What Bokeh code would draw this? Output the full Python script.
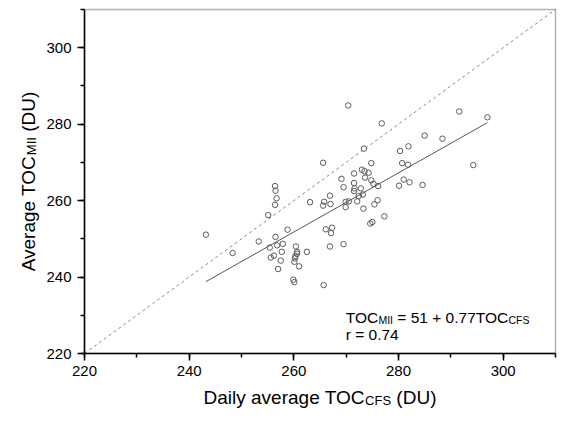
import math
from bokeh.plotting import figure
from bokeh.models import Range1d, SingleIntervalTicker, Label, BoxAnnotation
from bokeh.embed import file_html
from bokeh.resources import INLINE

# ---- data ----
cfs = [270.4, 276.8, 273.4, 280.3, 281.9, 265.6, 274.8, 280.7, 281.8, 271.5,
       273.0, 273.5, 274.3, 269.1, 273.6, 274.8, 275.2, 276.1, 281.0, 282.1,
       280.1, 256.4, 256.5, 269.5, 271.5, 271.6, 271.5, 272.8, 273.2, 272.4,
       266.9, 256.7, 263.1, 265.8, 265.6, 267.0, 269.9, 270.5, 272.1, 276.0,
       275.4, 269.9, 273.3, 256.4, 255.1, 277.3, 274.6, 275.0, 258.8, 266.1,
       267.3, 291.6, 297.0, 285.0, 288.4, 294.3, 284.6, 243.2, 248.3, 253.3,
       255.4, 256.5, 256.8, 257.9, 257.7, 255.6, 256.2, 257.5, 257.0, 260.4,
       260.6, 260.6, 260.3, 260.2, 260.1, 261.0, 262.5, 259.9, 260.1, 265.7,
       267.1, 266.9, 269.5]
mii = [284.9, 280.2, 273.6, 273.0, 274.2, 269.9, 269.8, 269.8, 269.4, 267.1,
       268.1, 267.7, 267.3, 265.7, 266.0, 265.3, 264.4, 263.8, 265.5, 264.8,
       263.9, 263.8, 262.6, 263.5, 264.6, 263.2, 262.5, 263.2, 261.6, 261.2,
       261.3, 260.6, 259.6, 259.7, 258.7, 259.1, 259.7, 259.8, 259.8, 260.1,
       259.0, 258.3, 257.9, 258.9, 256.2, 255.9, 254.0, 254.4, 252.4, 252.5,
       252.9, 283.3, 281.8, 277.0, 276.2, 269.3, 264.1, 251.1, 246.3, 249.3,
       247.7, 250.5, 248.3, 248.7, 246.6, 245.1, 245.6, 244.3, 242.1, 248.0,
       246.6, 246.1, 245.5, 244.9, 244.0, 242.8, 246.6, 239.3, 238.7, 237.9,
       251.5, 248.0, 248.6]
fit_x = [243.2, 297.0]
fit_y = [238.8, 280.4]
one_to_one = [220, 310]
axis_lo, axis_hi = 220, 310
tick_step = 20
x_label = ["Daily average TOC", "CFS", "(DU)"]
y_label = ["Average TOC", "MII", "(DU)"]
eq_parts = ["TOC", "MII", "= 51 + 0.77TOC", "CFS"]
r_text = "r = 0.74"

# ---- layout (canvas pixels) ----
W, H = 558, 410
BOX_L, BOX_R, BOX_T, BOX_B = 84, 555, 9, 353
FONT = "Liberation Sans"

SX = (BOX_R - BOX_L) / (axis_hi - axis_lo)
SY = (BOX_B - BOX_T) / (axis_hi - axis_lo)
xa = axis_lo - BOX_L / SX
xb = axis_hi + (W - BOX_R) / SX
yb = axis_hi + BOX_T / SY
ya = axis_lo - (H - BOX_B) / SY

AW = {' ': .278, '=': .584, '+': .584, '.': .278, 'T': .611, 'O': .778, 'C': .722,
      'M': .833, 'I': .278, 'F': .611, 'S': .667, 'r': .333, '(': .333, ')': .333,
      'D': .722, 'U': .722, 'A': .667, 'v': .5, 'e': .556, 'a': .556, 'g': .556,
      'i': .222, 'l': .222, 'y': .5}
for d in "0123456789":
    AW[d] = .556


def tw(s, size):
    return sum(AW.get(c, .556) for c in s) * size


def cx(px):  # canvas x -> data
    return xa + px / SX


def cy(py):  # canvas y (from top) -> data
    return yb - py / SY


p = figure(width=W, height=H, x_range=Range1d(xa, xb), y_range=Range1d(ya, yb),
           output_backend="svg", toolbar_location=None, min_border=0)
p.grid.visible = False
p.outline_line_color = None
p.background_fill_color = "white"
p.border_fill_color = "white"

for ax, loc in ((p.xaxis[0], axis_lo), (p.yaxis[0], axis_lo)):
    ax.fixed_location = loc
    ax.bounds = (axis_lo, axis_hi)
    ax.ticker = SingleIntervalTicker(interval=tick_step, num_minor_ticks=2)
    ax.major_tick_in = 0
    ax.major_tick_out = 7
    ax.minor_tick_in = 0
    ax.minor_tick_out = 4
    ax.axis_line_width = 1.5
    ax.axis_line_color = "black"
    ax.major_tick_line_width = 1.5
    ax.minor_tick_line_width = 1.5
    ax.major_tick_line_color = "black"
    ax.minor_tick_line_color = "black"
    ax.major_label_text_font = FONT
    ax.major_label_text_font_size = "15px"
    ax.major_label_text_color = "black"
p.xaxis[0].major_label_standoff = 5
p.yaxis[0].major_label_standoff = 6

# box around the plotting area
p.add_layout(BoxAnnotation(left=axis_lo, right=axis_hi, bottom=axis_lo, top=axis_hi,
                           fill_alpha=0, line_color="black", line_width=1.5,
                           level="overlay"))

# 1:1 line
p.line(one_to_one, one_to_one, line_color="#8a8a8a", line_width=1, line_dash="3 3")
# regression line
p.line(fit_x, fit_y, line_color="#555555", line_width=1)
# points
p.scatter(cfs, mii, marker="circle", size=5.5, fill_color=None,
          line_color="#5c5c5c", line_width=1)


def add_text(px, py, text, size, angle=0.0):
    p.add_layout(Label(x=cx(px), y=cy(py), text=text, text_font=FONT,
                       text_font_size=f"{size}px", text_color="black",
                       text_align="left", text_baseline="alphabetic", angle=angle))


MAIN, SUB, SUBDROP = 19, 13, 2.5
wsp = tw(" ", MAIN)

# x axis label
w1, w2 = tw(x_label[0], MAIN), tw(x_label[1], SUB)
total = w1 + w2 + wsp + tw(x_label[2], MAIN)
sx0 = (BOX_L + BOX_R) / 2 - total / 2
base = 397
add_text(sx0, base, x_label[0], MAIN)
add_text(sx0 + w1, base + SUBDROP, x_label[1], SUB)
add_text(sx0 + w1 + w2 + wsp, base, x_label[2], MAIN)

# y axis label (rotated, reads bottom to top)
v1, v2 = tw(y_label[0], MAIN), tw(y_label[1], SUB)
total = v1 + v2 + wsp + tw(y_label[2], MAIN)
sy0 = (BOX_T + BOX_B) / 2 + total / 2
bx = 28
ang = math.pi / 2
add_text(bx, sy0, y_label[0], MAIN, ang)
add_text(bx + SUBDROP, sy0 - v1, y_label[1], SUB, ang)
add_text(bx, sy0 - v1 - v2 - wsp, y_label[2], MAIN, ang)

# equation annotation
EQ, EQS = 15.5, 10.5
a1 = tw(eq_parts[0], EQ)
a2 = tw(eq_parts[1], EQS)
a3 = tw(" ", EQ)
a4 = tw(eq_parts[2], EQ)
a5 = tw(eq_parts[3], EQS)
ex = BOX_R - 26 - (a1 + a2 + a3 + a4 + a5)
ey = BOX_B - 36
add_text(ex, ey, eq_parts[0], EQ)
add_text(ex + a1, ey + 2, eq_parts[1], EQS)
add_text(ex + a1 + a2 + a3, ey, eq_parts[2], EQ)
add_text(ex + a1 + a2 + a3 + a4, ey + 2, eq_parts[3], EQS)
add_text(ex, ey + 17, r_text, EQ)

open("out.html", "w").write(file_html(p, INLINE))
